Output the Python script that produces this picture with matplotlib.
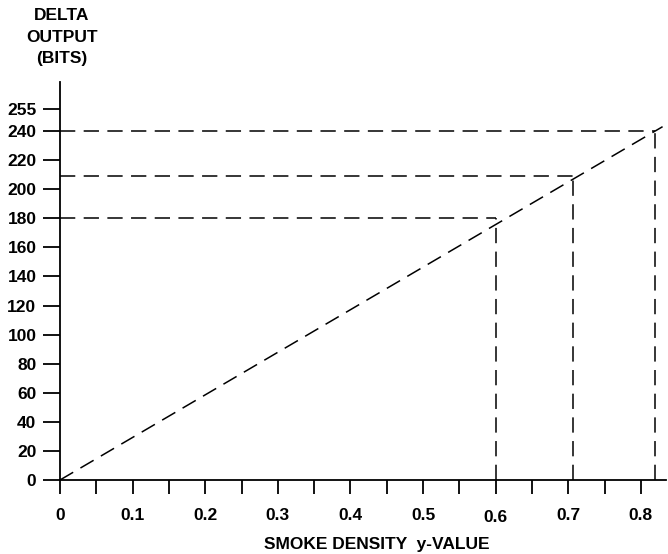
import matplotlib
matplotlib.use("Agg")
import matplotlib.pyplot as plt
import matplotlib.transforms as mtransforms

plt.rcParams['font.family'] = ['Liberation Sans', 'DejaVu Sans']
plt.rcParams['font.weight'] = 'bold'

# data
y_ticks = [0, 20, 40, 60, 80, 100, 120, 140, 160, 180, 200, 220, 240, 255]
x_minor = [0.05, 0.15, 0.25, 0.35, 0.45, 0.55, 0.65, 0.75]
x_labels = [0, 0.1, 0.2, 0.3, 0.4, 0.5, 0.6, 0.7, 0.8]
line_x = [0.0, 0.83]
line_y = [0.0, 243.0]
ref_x = [0.6, 0.707, 0.82]
ref_y = [180, 209, 240]

FS = 12.5
W, H = 668, 554
fig = plt.figure(figsize=(W / 100, H / 100), dpi=100)
left, right, top, bottom = 60, 666, 82, 480
ax = fig.add_axes([left / W, (H - bottom) / H, (right - left) / W, (bottom - top) / H])

ax.set_xlim(0, (right - left) / 726.0)
ax.set_ylim(0, (bottom - top) / 1.454)

for s in ['top', 'right']:
    ax.spines[s].set_visible(False)
for s in ['left', 'bottom']:
    ax.spines[s].set_linewidth(1.3)

dash = (0, (10, 5.5))
ax.plot(line_x, line_y, color='black', lw=1.1, linestyle=dash)
for xv, yv in zip(ref_x, ref_y):
    ax.plot([0, xv], [yv, yv], color='black', lw=1.1, linestyle=dash)
    ax.plot([xv, xv], [0, yv], color='black', lw=1.1, linestyle=dash)

ax.set_yticks(y_ticks)
ax.set_yticklabels([str(v) for v in y_ticks], fontsize=FS, fontweight='bold')
ax.tick_params(axis='y', direction='out', length=12, width=1.3, pad=5)

ax.set_xticks(x_minor + x_labels)
ax.set_xticklabels([])
ax.tick_params(axis='x', direction='out', length=10, width=1.3)

trans = mtransforms.blended_transform_factory(ax.transData, fig.transFigure)
for v in x_labels:
    txt = '0' if v == 0 else f'{v:.1f}'
    ypix = 518 if v == 0.6 else 515
    ax.text(v, 1 - ypix / H, txt, transform=trans, ha='center', va='center',
            fontsize=FS, fontweight='bold')

fig.text(377 / W, 1 - 545 / H, 'SMOKE DENSITY  y-VALUE', ha='center', va='center',
         fontsize=FS, fontweight='bold')
fig.text(62 / W, 1 - 37 / H, 'DELTA\nOUTPUT\n(BITS)', ha='center', va='center',
         fontsize=FS, fontweight='bold', linespacing=1.5)

fig.savefig('out.png', dpi=100)
